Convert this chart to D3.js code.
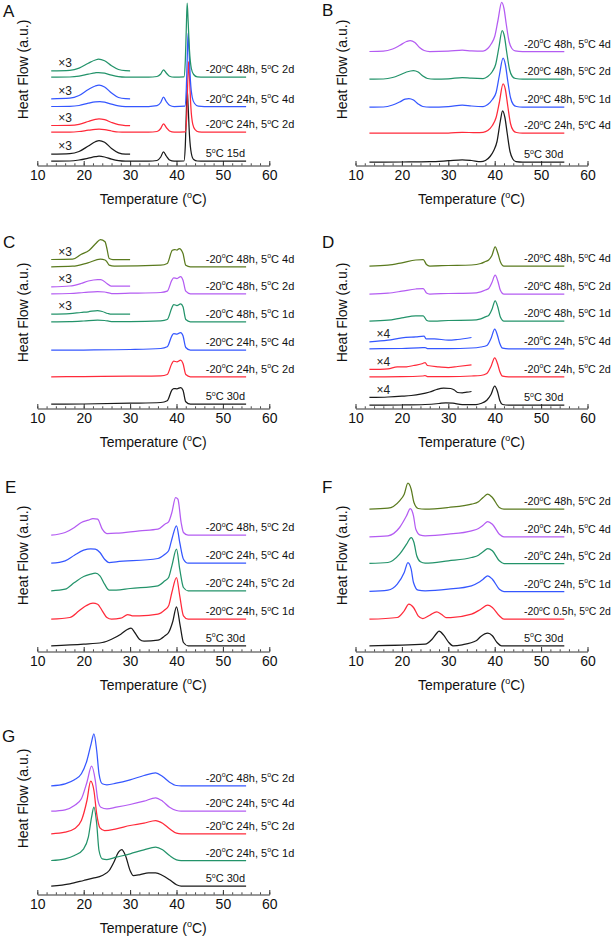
<!DOCTYPE html>
<html><head><meta charset="utf-8">
<script src="https://d3js.org/d3.v7.min.js"></script>
<style>body{margin:0;background:#fff}svg{display:block}</style>
</head><body>
<script>
// ---------------- DATA (Temperature °C, heat flow a.u. offset) ----------------
const xTicks = [10, 20, 30, 40, 50, 60];
const COLORS = {black:"#1a1a1a", red:"#ff2a3a", blue:"#3557ff", green:"#23936a", purple:"#b45cf2", olive:"#5a7a1e"};

// Panel A
const A_labels = ["5°C 15d", "-20°C 24h, 5°C 2d", "-20°C 24h, 5°C 4d", "-20°C 48h, 5°C 2d"];
const A_colors = ["black", "red", "blue", "green"];
const A_black = [[13,4.3],[17,4.5],[19,5.5],[21,7.3],[22.5,8.8],[23.3,9.3],[24.5,8.5],[26,6.3],[27.5,4.8],[29,4.3],[34,4.3],[35.8,5],[36.6,8.5],[37.2,13.7],[37.8,9.5],[38.5,5.5],[39.5,4.3],[41.6,4.5],[41.9,20],[42.1,50],[42.3,76.3],[42.5,60],[42.8,30],[43.2,12],[43.7,6],[44.5,4.5],[46,4.3],[55,4.3]];
const A_red = [[13,33.3],[17,33.4],[19,34],[21,35.3],[22.5,36.1],[23.3,36.3],[24.5,35.8],[26,34.5],[27.5,33.5],[29,33.3],[34,33.3],[35.8,34],[36.6,37],[37.2,41.7],[37.8,38],[38.5,34.5],[39.5,33.3],[41.9,33.6],[42.2,48],[42.4,80],[42.6,104],[42.8,88.3],[43.1,58.3],[43.5,41.3],[44,35.8],[44.8,33.6],[46,33.3],[55,33.3]];
const A_blue = [[13,59],[17,59.2],[19,60],[21,62.3],[22.5,63.7],[23.5,64],[24.5,63.4],[26,61.3],[27.5,59.6],[29,59],[34,59],[35.8,59.8],[36.6,63],[37.2,68.3],[37.8,64],[38.5,60.3],[39.5,59],[41.8,59.3],[42.1,75],[42.3,105],[42.5,132.3],[42.7,115],[43,85],[43.4,68],[43.9,62],[44.7,59.3],[46,59],[55,59]];
const A_green = [[13,88.3],[17,88.5],[19,89.3],[21,91.3],[22.5,92.7],[23.2,93],[24.5,92.3],[26,90.3],[27.5,88.8],[29,88.3],[34,88.3],[35.8,89],[36.6,91.5],[37.2,95.7],[37.8,92.5],[38.5,89.3],[39.5,88.3],[41.6,88.6],[41.9,105],[42.1,135],[42.3,162.3],[42.5,145],[42.8,115],[43.2,97],[43.7,91],[44.5,88.6],[46,88.3],[55,88.3]];
const A_black_x3 = [[13,11.3],[17,11.8],[19,14],[21,19.5],[22.5,23.7],[23.3,25],[24.5,23.3],[26,17],[27.5,12.7],[29,11.3],[30,11.3]];
const A_red_x3 = [[13,40],[17,40.2],[19,41.2],[21,44],[22.5,46.2],[23.3,46.7],[24.5,45.8],[26,43],[27.5,40.8],[29,40],[30,40]];
const A_blue_x3 = [[13,66.7],[17,67.3],[19,70],[21,76],[22.5,79.5],[23.3,80.3],[24.5,78.5],[26,72.5],[27.5,68],[29,66.8],[30,66.7]];
const A_green_x3 = [[13,94.7],[17,95.2],[19,97.3],[21,102.3],[22.5,105.5],[23.2,106.3],[24.5,104.7],[26,99.7],[27.5,96],[29,94.8],[30,94.7]];

// Panel B
const B_labels = ["5°C 30d", "-20°C 24h, 5°C 4d", "-20°C 48h, 5°C 1d", "-20°C 48h, 5°C 2d", "-20°C 48h, 5°C 4d"];
const B_colors = ["black", "red", "blue", "green", "purple"];
const B_black = [[13,3.3],[20,3.5],[26,3.8],[30,4.8],[33,5.7],[35,5],[37,3.8],[38,5],[39,9],[39.8,15],[40.5,24],[41.2,44],[41.7,54.7],[42.2,48],[42.7,32],[43.3,14],[43.9,6.5],[44.6,3.8],[46,3.3],[55,3.3]];
const B_red = [[13,32.3],[30,32.5],[33,33.2],[36,32.8],[37.5,33.2],[38.5,35],[39.5,40],[40.3,48],[41,63],[41.8,81.6],[42.3,76],[42.8,60],[43.4,42],[44,35],[44.7,33],[46,32.3],[55,32.3]];
const B_blue = [[13,58.3],[16,58.5],[18,60.5],[19.5,63.5],[20.7,66.3],[21.5,67],[22.5,65.5],[23.5,61.5],[24.5,59],[26,58.3],[30,58.8],[33,60.3],[35,59.5],[37.5,59],[38.5,61],[39.5,66],[40.3,73],[41,90],[41.8,107.3],[42.3,101],[42.8,85],[43.4,68],[44,61],[44.7,59],[46,58.3],[55,58.3]];
const B_green = [[13,86.3],[16,86.5],[18,88],[19.5,90.5],[21,93.5],[22.5,95],[23.5,93.5],[24.5,89.5],[25.5,87],[27,86.3],[30,86.6],[33,88],[35,87.3],[37.5,87],[38.5,89],[39.5,94],[40.2,101],[40.9,118],[41.6,135],[42.1,129],[42.6,113],[43.2,96],[43.8,89],[44.5,87],[46,86.3],[55,86.3]];
const B_purple = [[13,114],[16,114.3],[18,116.5],[19.5,120],[21,124],[21.8,125],[22.8,123],[23.8,118],[24.8,115],[26,114],[30,114.3],[33,115.3],[35,114.7],[37.5,114.5],[38.5,117],[39.3,122],[40,129],[40.7,145],[41.5,163],[42,157],[42.5,141],[43.1,124],[43.7,117],[44.4,114.7],[46,114],[55,114]];

// Panel C
const C_labels = ["5°C 30d", "-20°C 24h, 5°C 2d", "-20°C 24h, 5°C 4d", "-20°C 48h, 5°C 1d", "-20°C 48h, 5°C 2d", "-20°C 48h, 5°C 4d"];
const C_colors = ["black", "red", "blue", "green", "purple", "olive"];
const C_black = [[13,4.3],[20,4.5],[30,5.3],[36.6,6],[38,7.7],[39,18.3],[39.4,20],[40.1,19.7],[40.9,21],[41.4,18.3],[42,6.7],[43,4.3],[55,4.3]];
const C_red = [[13,31.7],[20,31.9],[30,32.3],[36.6,32.7],[38,34],[39,45],[39.4,47.3],[40.1,46.7],[40.9,48.3],[41.4,45],[42,34],[43,31.7],[55,31.7]];
const C_blue = [[13,58.3],[20,58.5],[30,59],[36.6,60],[38,61.7],[39,72.7],[39.4,75],[40.1,74.3],[40.9,76],[41.4,72.7],[42,61],[43,58.3],[55,58.3]];
const C_green = [[13,86.7],[17,86.9],[20,87.5],[23,88.3],[24.5,88],[26,87],[30,87],[36.6,87.7],[38,89],[39,100.7],[39.4,104],[40.1,103],[40.9,104.7],[41.4,101.7],[42,89],[43,86.7],[55,86.7]];
const C_purple = [[13,114.7],[17,115],[20,116],[23,117],[24.5,116.5],[26,115],[30,115.3],[36.6,116],[38,117.3],[39,128.3],[39.4,130.7],[40.1,130],[40.9,132],[41.4,128.3],[42,117.3],[43,114.7],[55,114.7]];
const C_olive = [[13,141.7],[17.6,142.3],[20.9,145.7],[23.6,149.3],[24.6,148.5],[25,146.7],[25.5,143.3],[26.6,142.3],[36.6,143.3],[38,145],[39.1,158.3],[39.6,159],[40.1,158.5],[40.6,160],[41.4,155],[42,143.3],[43,141.7],[55,141.7]];
const C_green_x3 = [[13,94.3],[17,94.8],[19.4,96],[21,96.7],[23,98],[24,97],[25.2,95],[26,94.3],[30,94.3]];
const C_purple_x3 = [[13,121.7],[17,122.5],[19.4,125],[21,127.5],[23,129],[23.7,129],[25,125],[25.9,122.3],[30,122.3]];
const C_olive_x3 = [[13,149],[17.6,149.3],[19.4,154],[21.2,158.3],[22.6,165],[23.6,169],[24.6,166.7],[25,160],[25.5,150],[26.3,149],[30,149]];

// Panel D
const D_labels = C_labels;
const D_colors = ["black", "red", "blue", "green", "purple", "olive"];
const D_black = [[13,3.3],[20,3.5],[25,4],[28,5],[29.5,5.7],[31,5.3],[33,4],[36,4],[37,5],[38.3,8.3],[39.2,14],[40,22.3],[40.6,17],[41.1,8],[41.7,4],[43,3.3],[55,3.3]];
const D_red = [[13,31.7],[20,31.8],[24.5,32.5],[25,33],[25.5,32],[30,32],[35,32.5],[37,33],[38.3,35],[39.2,42],[40,50.7],[40.6,45],[41.1,37],[41.7,32.3],[43,31.7],[55,31.7]];
const D_blue = [[13,59.7],[20,60],[24.5,61],[25,61],[25.5,60],[30,60],[35,60.5],[37,61.5],[38.3,63],[39.2,70],[40,79.3],[40.6,73],[41.1,65],[41.7,60.3],[43,59.7],[55,59.7]];
const D_green = [[13,87.3],[17,88.3],[20,90.7],[23,92.7],[24.6,92.7],[25.3,88.3],[26,87.3],[30,88],[35,88.3],[37,89.7],[38,91.7],[38.7,93],[39.4,99],[40.1,107.7],[40.7,101],[41.2,91.7],[42,87.3],[55,87.3]];
const D_purple = [[13,114.3],[17,115.3],[20,117.3],[23,119.5],[24.6,120],[25.3,115.5],[26,114.5],[30,115],[35,115.3],[37,116.7],[38,118.5],[38.7,120],[39.4,126],[40.1,133.3],[40.7,127],[41.2,118.5],[42,114.3],[55,114.3]];
const D_olive = [[13,142.3],[17,143.3],[20,145.7],[23,148.5],[24.6,149],[25.3,144],[26,142.5],[30,143],[35,143.5],[37,145],[38,147],[38.7,148.5],[39.4,153],[40.1,161.7],[40.7,155],[41.2,147],[42,142.3],[55,142.3]];
const D_black_x4 = [[13,11],[17,11.5],[20,12.3],[22,13],[24,14.3],[26,16.5],[27.5,19],[29,20.3],[30.5,20],[31.3,18.5],[32,16],[33,15.7],[34,16.3],[35,17]];
const D_red_x4 = [[13,39],[17,39.7],[19,41.7],[21,41.7],[22.5,43],[24.5,45],[25,46],[25.5,43],[28,41.7],[30,41],[32,42],[35,43.7]];
const D_blue_x4 = [[13,66.7],[17,68.3],[20,70.7],[23,71.7],[24.8,72.3],[25.2,69.7],[27,69.7],[30,68.3],[32,69],[35,71]];

// Panel E
const E_labels = ["5°C 30d", "-20°C 24h, 5°C 1d", "-20°C 24h, 5°C 2d", "-20°C 24h, 5°C 4d", "-20°C 48h, 5°C 2d"];
const E_colors = ["black", "red", "green", "blue", "purple"];
const E_black = [[13,5.7],[20,7.3],[24,9],[26,12.3],[28,17.3],[29.5,22.3],[30.2,23.3],[31,19],[32,12.3],[33,10.3],[36,11.3],[37.5,15.7],[38.3,19],[39.2,30],[40,44.7],[40.8,25.7],[41.5,9],[42.5,5.7],[55,5.7]];
const E_red = [[13,32.3],[17,34],[19,40.7],[20.5,45.7],[22,48.3],[23,47.3],[24,40.7],[25,34],[26,32.3],[28,33.3],[29.5,37],[30.5,35.7],[32,35.7],[36,37.3],[37.5,41.7],[38.3,45.7],[39,59],[40,74],[40.7,55.7],[41.5,35.7],[42.5,32.3],[55,32.3]];
const E_green = [[13,60.7],[16,62.3],[18,69],[20,75],[21.5,77.3],[22.5,78.3],[23.5,75.7],[24.5,67.3],[25.5,61.3],[27,61.3],[30,63],[36,65.7],[37.5,70.7],[38.3,74],[39,85.7],[40,102.3],[40.7,82.3],[41.5,64],[42.5,60.7],[55,60.7]];
const E_blue = [[13,88.3],[16,90.7],[18,96.3],[20,101.3],[21.5,102.7],[22.5,102.3],[23.5,99],[24.5,92.3],[25.5,89],[27,89.7],[36,93],[37.5,97.3],[38.3,100.7],[39,112.3],[40,125.7],[40.7,109],[41.5,92.3],[42.5,88.3],[55,88.3]];
const E_purple = [[13,116.3],[16,119],[18,124],[19.5,129],[21,131.3],[22,133],[23,132.3],[24,122.3],[25,118],[27,118.3],[32,120.7],[36,122.3],[37.5,127.3],[38.3,129.7],[39,139],[39.8,154],[40.3,152.3],[41,129],[41.5,119],[42.5,116.3],[55,116.3]];

// Panel F
const F_labels = ["5°C 30d", "-20°C 0.5h, 5°C 2d", "-20°C 24h, 5°C 1d", "-20°C 24h, 5°C 2d", "-20°C 24h, 5°C 4d", "-20°C 48h, 5°C 2d"];
const F_colors = ["black", "red", "blue", "green", "purple", "olive"];
const F_black = [[13,5.7],[25,7.3],[26.5,12.3],[27.5,18.3],[28,20.3],[29,16.3],[30,9.7],[31,5.7],[33,6.7],[36,10.7],[37,15],[38.5,18.3],[39.5,15.7],[40.5,9],[41.5,5.7],[55,5.7]];
const F_red = [[13,32.3],[19,34],[20.5,40.7],[21.5,47.3],[22.5,44],[23.5,35.7],[24.5,33],[26,36.3],[27.5,39.7],[28.5,37.3],[29.5,34],[30.5,34],[35,37.3],[37,42.3],[38.5,46.3],[39.5,44],[41,35.7],[42,32.3],[55,32.3]];
const F_blue = [[13,60],[17,61.3],[19,67.3],[20.5,79],[21.3,89],[22,82.3],[22.5,69],[23.5,61.3],[25,60.7],[30,62.3],[35,65.7],[36.5,69],[37.5,72.3],[38.5,75.7],[39.5,72.3],[41,62.3],[42,60],[55,60]];
const F_green = [[13,88],[17,89],[19.5,97.3],[21,107.3],[22,114],[22.6,109],[23.2,95.7],[24,89.7],[25,88.3],[30,90.7],[35,94],[36.5,96.3],[37.5,99.7],[38.5,103],[39.5,100.7],[41,90.7],[42,88],[55,88]];
const F_purple = [[13,114.7],[17,115.7],[19.5,124],[21,135.7],[21.8,143],[22.5,135.7],[23,122.3],[24,116.3],[25,115.7],[30,117.3],[35,120.7],[36.5,123],[37.5,126.3],[38.5,130],[39.5,127.3],[41,117.3],[42,114.7],[55,114.7]];
const F_olive = [[13,142.3],[17,143.3],[19.5,150.7],[20.5,157.3],[21.3,168.3],[22,162.3],[22.6,149],[23.5,143],[25,142.3],[30,144],[35,147.3],[36.5,149.7],[37.5,154],[38.5,157.3],[39.5,154],[41,144],[42,142.3],[55,142.3]];

// Panel G
const G_labels = ["5°C 30d", "-20°C 24h, 5°C 1d", "-20°C 24h, 5°C 2d", "-20°C 24h, 5°C 4d", "-20°C 48h, 5°C 2d"];
const G_colors = ["black", "green", "red", "purple", "blue"];
const G_black = [[13,8.3],[17,10.7],[20,14],[22,16.3],[24,19],[25.5,24],[26.5,32.3],[27.5,42.3],[28.2,45],[29,39],[30,24],[30.7,19],[32,19.7],[34,21.7],[35.5,21.7],[37,19],[38.5,14.7],[40,9.7],[41,8.3],[55,8.3]];
const G_green = [[13,34],[16,35.7],[18,39],[20,45.7],[21,57.3],[21.7,77.3],[22.2,87.3],[22.8,70.7],[23.3,44],[24,35.7],[25,35],[27,37.3],[30,40.7],[33,44.7],[35.5,47.3],[37,44.7],[38.5,39],[40,34.7],[41,34],[55,34]];
const G_red = [[13,60.7],[16,62.3],[18,65.7],[19.5,74],[20.7,94],[21.5,113.3],[22.2,104],[22.8,80.7],[23.5,66.7],[24.5,64],[27,65.7],[30,69],[33,71.3],[35.5,74],[37,71.3],[38.5,65.7],[40,61.3],[41,60.7],[55,60.7]];
const G_purple = [[13,83.3],[16,84.7],[18,89],[19.5,95.7],[20.7,112.3],[21.7,128.3],[22.5,114],[23,95.7],[23.7,87.3],[25,85.7],[27,87.3],[30,90],[33,93.3],[35.5,96.7],[37,93.3],[38.5,87.3],[40,84],[41,83.3],[55,83.3]];
const G_blue = [[13,108.7],[16,110.7],[18,114.7],[19.5,120.7],[20.7,134],[21.6,150.7],[22.2,160.7],[22.8,144],[23.3,120.7],[24,110.7],[25,109.7],[27,111.3],[30,114.7],[33,119],[35.5,121.7],[37,118],[38.5,112.3],[40,109],[41,108.7],[55,108.7]];

// ---------------- PANEL SETUP ----------------
const panels = [
  {id:"A", col:0, row:0, labels:A_labels, colors:A_colors, curves:[A_black,A_red,A_blue,A_green],
   mult:[[A_black_x3,"black"],[A_red_x3,"red"],[A_blue_x3,"blue"],[A_green_x3,"green"]], multText:"×3"},
  {id:"B", col:1, row:0, labels:B_labels, colors:B_colors, curves:[B_black,B_red,B_blue,B_green,B_purple], mult:[], multText:""},
  {id:"C", col:0, row:1, labels:C_labels, colors:C_colors, curves:[C_black,C_red,C_blue,C_green,C_purple,C_olive],
   mult:[[C_green_x3,"green"],[C_purple_x3,"purple"],[C_olive_x3,"olive"]], multText:"×3"},
  {id:"D", col:1, row:1, labels:D_labels, colors:D_colors, curves:[D_black,D_red,D_blue,D_green,D_purple,D_olive],
   mult:[[D_black_x4,"black"],[D_red_x4,"red"],[D_blue_x4,"blue"]], multText:"×4"},
  {id:"E", col:0, row:2, labels:E_labels, colors:E_colors, curves:[E_black,E_red,E_green,E_blue,E_purple], mult:[], multText:""},
  {id:"F", col:1, row:2, labels:F_labels, colors:F_colors, curves:[F_black,F_red,F_blue,F_green,F_purple,F_olive], mult:[], multText:""},
  {id:"G", col:0, row:3, labels:G_labels, colors:G_colors, curves:[G_black,G_green,G_red,G_purple,G_blue], mult:[], multText:""}
];

const W = 614, H = 939;
const FONT = "'Liberation Sans', Arial, Helvetica, sans-serif";
const colX = [37.3, 355.5];
const plotW = 232;
const rowAxisY = [165.5, 408.5, 651.5, 894.5];
const letterPos = {A:[3,17], B:[322,16], C:[3,248], D:[322,248], E:[5,493], F:[322,493], G:[2,742]};

const svg = d3.select("body").append("svg").attr("width", W).attr("height", H)
  .style("font-family", FONT);

// helper: write text with superscript "o" for degree
function degText(sel, str, supSize) {
  const parts = str.split("°");
  parts.forEach((p, i) => {
    if (i > 0) {
      sel.append("tspan").attr("font-size", supSize).attr("dy", -supSize * 0.62).text("o");
      sel.append("tspan").attr("dy", supSize * 0.62).text(p);
    } else {
      sel.append("tspan").text(p);
    }
  });
}

panels.forEach(p => {
  const x0 = colX[p.col], axisY = rowAxisY[p.row];
  const x = d3.scaleLinear().domain([10, 60]).range([x0, x0 + plotW]);
  const y = d3.scaleLinear().domain([0, 170]).range([axisY, axisY - 170]);
  const g = svg.append("g");

  // minor ticks
  g.append("g").attr("transform", `translate(0,${axisY})`)
    .call(d3.axisBottom(x).tickValues(d3.range(10, 61, 2)).tickSize(-2.2).tickFormat(""))
    .call(a => a.select(".domain").remove())
    .call(a => a.selectAll("line").attr("stroke", "#333").attr("stroke-width", 0.9));
  // major ticks + labels
  g.append("g").attr("transform", `translate(0,${axisY})`)
    .call(d3.axisBottom(x).tickValues(xTicks).tickSizeInner(-4.5).tickSizeOuter(0).tickPadding(5).tickFormat(d3.format("d")))
    .call(a => a.select(".domain").attr("stroke", "#333").attr("stroke-width", 1))
    .call(a => a.selectAll("line").attr("stroke", "#333").attr("stroke-width", 1))
    .call(a => a.selectAll("text").attr("font-size", 14).attr("fill", "#111").attr("font-family", FONT));

  // axis titles
  const tt = g.append("text").attr("x", x(35)).attr("y", axisY + 38).attr("text-anchor", "middle")
    .attr("font-size", 14).attr("fill", "#111");
  degText(tt, "Temperature (°C)", 9);
  g.append("text").attr("transform", `translate(${x0 - 9},${axisY - 96}) rotate(-90)`)
    .attr("text-anchor", "middle").attr("font-size", 14).attr("fill", "#111").text("Heat Flow (a.u.)");

  // panel letter
  g.append("text").attr("x", letterPos[p.id][0]).attr("y", letterPos[p.id][1])
    .attr("font-size", 17).attr("fill", "#111").text(p.id);

  const line = d3.line().x(d => x(d[0])).y(d => y(d[1])).curve(d3.curveMonotoneX);

  // main curves
  p.curves.forEach((c, i) => {
    g.append("path").datum(c).attr("d", line).attr("fill", "none")
      .attr("stroke", COLORS[p.colors[i]]).attr("stroke-width", 1.25).attr("stroke-linejoin", "round");
    const last = c[c.length - 1];
    const lx = x(46.3);
    let fs = 11;
    const lt = g.append("text").attr("x", lx).attr("y", y(last[1]) - 4)
      .attr("font-size", fs).attr("fill", "#111");
    degText(lt, p.labels[i], 7);
    const wdt = lt.node().getComputedTextLength();
    const maxW = W - 3 - lx;
    if (wdt > maxW) {
      fs = fs * maxW / wdt;
      lt.attr("font-size", fs);
      lt.selectAll("tspan").filter(function(){ return this.textContent === "o"; }).attr("font-size", 7 * maxW / wdt);
    }
  });
  // multiplied curves
  p.mult.forEach(([c, col]) => {
    g.append("path").datum(c).attr("d", line).attr("fill", "none")
      .attr("stroke", COLORS[col]).attr("stroke-width", 1.25).attr("stroke-linejoin", "round");
    g.append("text").attr("x", x(14.5)).attr("y", y(c[0][1]) - 4)
      .attr("font-size", 12).attr("fill", "#222").text(p.multText);
  });
});
</script>
</body></html>
